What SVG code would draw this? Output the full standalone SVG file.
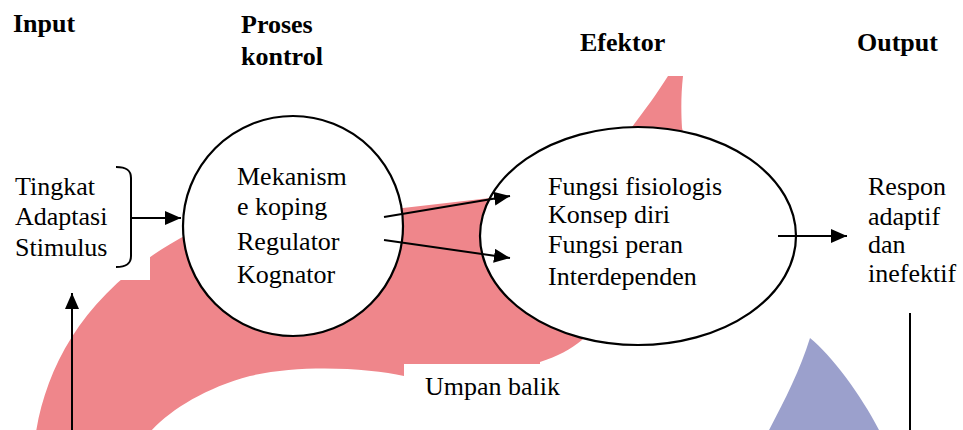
<svg xmlns="http://www.w3.org/2000/svg" width="963" height="430" viewBox="0 0 963 430">
  <style>
    text { font-family: "Liberation Serif", "Times New Roman", serif; font-size: 26px; fill: #000; }
    .h { font-weight: bold; }
    .node { fill: #fff; stroke: #000; stroke-width: 2.2; }
    .ln { fill: none; stroke: #000; stroke-width: 2; }
    .arr { marker-end: url(#ah); }
  </style>
  <defs>
    <marker id="ah" viewBox="0 0 16 14" refX="16" refY="7" markerWidth="16" markerHeight="14" markerUnits="userSpaceOnUse" orient="auto">
      <path d="M0,0 L16,7 L0,14 Z" fill="#000"/>
    </marker>
  </defs>

  <!-- background shapes -->
  <g id="feedback-band">
    <path d="M36,432 C48,360 90,285 190,233 L300,200 L403,208 L490,198 L600,160 L632,127 C645,110 658,92 668,76 L683,76 C681,95 681,110 682,128 L700,200 L582,340 C570,350 558,356 540,362 L540,376 L404,376 C370,368 300,364 250,376 C205,388 170,410 150,432 Z" fill="#ef868b"/>
    <path d="M810,338 C832,356 862,396 880,432 L768,432 C785,400 800,370 810,338 Z" fill="#9ba0cc"/>
  </g>
  <rect x="0" y="0" width="150" height="280" fill="#fff"/>
  <rect x="404" y="364" width="200" height="66" fill="#fff"/>

  <!-- headings -->
  <g id="headings">
    <text class="h" x="13" y="32">Input</text>
    <text class="h" x="241" y="33">Proses</text>
    <text class="h" x="241" y="65">kontrol</text>
    <text class="h" x="580" y="51">Efektor</text>
    <text class="h" x="857" y="51">Output</text>
  </g>

  <g id="input">
    <text x="15" y="195">Tingkat</text>
    <text x="15" y="225">Adaptasi</text>
    <text x="15" y="256">Stimulus</text>
    <path class="ln" d="M116,167 C126,167 131,170 131,178 L131,256 C131,264 126,267 116,267"/>
  </g>

  <g id="proses-kontrol">
    <circle class="node" cx="293" cy="226" r="110"/>
    <text x="237" y="185">Mekanism</text>
    <text x="237" y="215">e koping</text>
    <text x="237" y="250">Regulator</text>
    <text x="237" y="283">Kognator</text>
  </g>

  <g id="efektor">
    <ellipse class="node" cx="638" cy="236" rx="158" ry="109"/>
    <text x="548" y="195">Fungsi fisiologis</text>
    <text x="548" y="223">Konsep diri</text>
    <text x="548" y="253">Fungsi peran</text>
    <text x="548" y="285">Interdependen</text>
  </g>

  <g id="output">
    <text x="868" y="195">Respon</text>
    <text x="868" y="225">adaptif</text>
    <text x="868" y="253">dan</text>
    <text x="868" y="282">inefektif</text>
  </g>

  <g id="umpan-balik">
    <text x="425" y="395">Umpan balik</text>
  </g>

  <g id="connectors">
    <line class="ln arr" x1="131" y1="218" x2="181" y2="218"/>
    <line class="ln arr" x1="384" y1="217" x2="510" y2="196"/>
    <line class="ln arr" x1="384" y1="240" x2="510" y2="258"/>
    <line class="ln arr" x1="778" y1="236" x2="847" y2="236"/>
    <line class="ln arr" x1="72" y1="432" x2="72" y2="293"/>
    <line class="ln" x1="910" y1="313" x2="910" y2="432"/>
  </g>
</svg>
